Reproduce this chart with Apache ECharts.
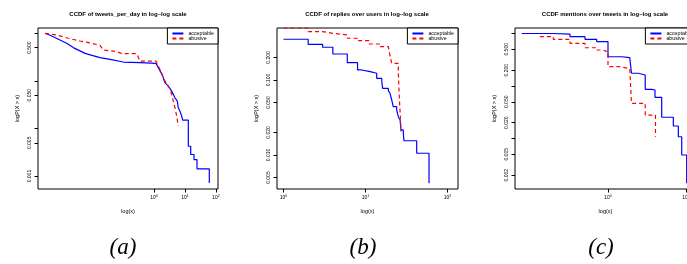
<!DOCTYPE html>
<html>
<head>
<meta charset="utf-8">
<title>CCDF in log-log scale</title>
<script src="https://cdn.jsdelivr.net/npm/echarts@6.0.0/dist/echarts.min.js"></script>
<style>
  html, body { margin: 0; padding: 0; background: #fff; overflow: hidden; }
  #main { width: 700px; height: 264px; }
</style>
</head>
<body>
<div id="main"></div>
<script>
// series: [x, P(X > x)]
const tweetsAcceptable = [[3.05e-4, 1.0], [4.42e-4, 0.908], [9.29e-4, 0.723], [1.53e-3, 0.617], [2.49e-3, 0.5],
  [5.94e-3, 0.379], [0.0181, 0.308], [0.0381, 0.284], [0.102, 0.249], [0.353, 0.242], [1.16, 0.233],
  [1.38, 0.190], [1.65, 0.153], [1.91, 0.126], [2.26, 0.0916], [2.89, 0.0778], [3.72, 0.0610], [4.75, 0.0443],
  [5.64, 0.0376], [6.08, 0.0273], [6.90, 0.0231], [7.83, 0.0182], [8.43, 0.0150], [12.8, 0.0150], [12.8, 0.00424],
  [15.3, 0.00424], [15.3, 0.00284], [19.5, 0.00284], [19.5, 0.00222], [24.4, 0.00222], [24.4, 0.00142],
  [60.8, 0.00142], [60.8, 0.00072]];
const tweetsAbusive = [[3.05e-4, 1.0], [7.27e-4, 0.920], [1.72e-3, 0.785], [4.10e-3, 0.689], [9.77e-3, 0.617],
  [0.0181, 0.559], [0.0232, 0.445], [0.0626, 0.412], [0.0908, 0.374], [0.277, 0.374], [0.353, 0.261],
  [1.16, 0.261], [1.38, 0.205], [1.65, 0.161], [1.99, 0.117], [2.44, 0.0916], [3.12, 0.0719], [3.72, 0.0520],
  [4.19, 0.0376], [4.75, 0.0273], [5.40, 0.0182], [6.08, 0.0112]];

// step curves (horizontal then vertical)
const repliesAcceptable = [[1, 0.349], [2, 0.299], [3, 0.273], [4, 0.222], [6, 0.170], [8, 0.136], [9, 0.129],
  [11.4, 0.123], [13.7, 0.105], [15.8, 0.0949], [16.2, 0.0774], [19, 0.072], [19.9, 0.0665], [20.9, 0.0541],
  [21.8, 0.0441], [24, 0.0398], [25.1, 0.0324], [26.4, 0.0293], [27.1, 0.0216], [28.9, 0.0195], [29.5, 0.0155],
  [42.1, 0.01055], [59.5, 0.0042]];
const repliesAbusive = [[1, 0.49], [2, 0.441], [3, 0.419], [4, 0.398], [6, 0.360], [8, 0.334], [11, 0.302],
  [15, 0.278], [19, 0.273], [20, 0.205], [20.9, 0.167], [25.1, 0.136], [25.8, 0.0599], [26.6, 0.0324],
  [27.1, 0.0205]];

const mentionsAcceptable = [[0.0783, 1.0], [0.199, 0.97], [0.326, 0.87], [0.507, 0.775], [0.717, 0.70],
  [1.0, 0.361], [1.5, 0.346], [1.9, 0.323], [2.0, 0.175], [2.44, 0.162], [3, 0.0865], [3.63, 0.0839],
  [4, 0.061], [4.88, 0.0254], [6.88, 0.0173], [7.97, 0.0108], [8.81, 0.00485], [10.2, 0.0014]];
const mentionsAbusive = [[0.134, 0.869], [0.199, 0.775], [0.326, 0.650], [0.507, 0.536], [0.717, 0.485],
  [0.85, 0.45], [1.0, 0.233], [1.43, 0.215], [1.9, 0.197], [2.0, 0.0468], [3.0, 0.028], [4.06, 0.0108]];

const titles = ['CCDF of tweets_per_day in log\u2013log scale', 'CCDF of replies over users in log\u2013log scale',
  'CCDF mentions over tweets in log\u2013log scale'];
const captions = ['(a)', '(b)', '(c)'];
const xTicks = [[0, 1, 2], [0, 1, 2], [0, 1]];
const yTicks = [[1, 0.5, 0.1, 0.05, 0.01, 0.005, 0.001],
  [0.2, 0.1, 0.05, 0.02, 0.01, 0.005],
  [1, 0.5, 0.2, 0.1, 0.05, 0.02, 0.01, 0.005, 0.002]];
const yLabels = [[0.5, 0.05, 0.005, 0.001],
  [0.2, 0.1, 0.05, 0.02, 0.01, 0.005],
  [0.5, 0.2, 0.05, 0.02, 0.005, 0.002]];

const FONT = 'Liberation Sans, Arial, sans-serif';
const panels = [
  { left: 38, width: 180, xMin: -3.742, xMax: 2.065, yMin: -3.271, yMax: 0.111, cx: 128, capX: 123 },
  { left: 277, width: 181, xMin: -0.079, xMax: 2.128, yMin: -2.453, yMax: -0.307, cx: 367, capX: 363 },
  { left: 515, width: 181, xMin: -1.192, xMax: 1.128, yMin: -2.962, yMax: 0.105, cx: 605, capX: 601 }
];

const toLog = pts => pts.map(p => [Math.log10(p[0]), Math.log10(p[1])]);

function makeSeries(name, pts, idx, color, dashed, step) {
  return {
    type: 'line', name, xAxisIndex: idx, yAxisIndex: idx,
    data: toLog(pts), symbol: 'none', step: step ? 'end' : false,
    lineStyle: { color, width: 1.2, type: dashed ? [4, 3] : 'solid' },
    itemStyle: { color }, silent: true, animation: false
  };
}

const chart = echarts.init(document.getElementById('main'));
chart.setOption({
  backgroundColor: '#fff',
  animation: false,
  title: panels.map((p, i) => ({
    text: titles[i], left: p.cx, top: 11, textAlign: 'center', padding: 0,
    textStyle: { fontSize: 6, fontWeight: 'bold', color: '#000', fontFamily: FONT }
  })).concat(panels.map((p, i) => ({
    text: captions[i], left: p.capX, top: 236, textAlign: 'center', padding: 0,
    textStyle: { fontSize: 23, fontStyle: 'italic', fontWeight: 'normal', color: '#000', fontFamily: 'Liberation Serif, serif' }
  }))),
  legend: panels.map(p => ({
    data: ['acceptable', 'abusive'], orient: 'vertical', right: 700 - p.left - p.width, top: 28,
    itemWidth: 11, itemHeight: 6, itemGap: 0, padding: [3, 4, 3, 4],
    borderColor: '#000', borderWidth: 1, borderRadius: 0, backgroundColor: '#fff',
    selectedMode: false,
    itemStyle: { opacity: 0, borderWidth: 0 },
    textStyle: { fontSize: 5.3, color: '#000', fontFamily: FONT }
  })),
  grid: panels.map(p => ({
    left: p.left, top: 28, width: p.width, height: 161, show: true,
    borderColor: '#000', borderWidth: 1, backgroundColor: 'transparent', outerBoundsMode: 'none'
  })),
  xAxis: panels.map((p, i) => ({
    type: 'value', gridIndex: i, min: p.xMin, max: p.xMax, position: 'bottom',
    name: 'log(x)', nameLocation: 'middle', nameGap: 19,
    nameTextStyle: { fontSize: 5.5, color: '#000', fontFamily: FONT },
    axisLine: { show: false, onZero: false }, splitLine: { show: false },
    axisTick: { show: true, length: 3.5, customValues: xTicks[i], lineStyle: { color: '#000', width: 1 } },
    axisLabel: {
      customValues: xTicks[i], margin: 5, color: '#000', fontFamily: FONT,
      formatter: v => '{b|10}{s|' + v + '}',
      rich: { b: { fontSize: 5, color: '#000' }, s: { fontSize: 3.5, color: '#000', padding: [0, 0, 3, 0] } }
    }
  })),
  yAxis: panels.map((p, i) => ({
    type: 'value', gridIndex: i, min: p.yMin, max: p.yMax, position: 'left',
    name: 'logP(X > x)', nameLocation: 'middle', nameGap: 18, nameRotate: 90,
    nameTextStyle: { fontSize: 5.5, color: '#000', fontFamily: FONT },
    axisLine: { show: false, onZero: false }, splitLine: { show: false },
    axisTick: { show: true, length: 3.5, customValues: yTicks[i].map(Math.log10), lineStyle: { color: '#000', width: 1 } },
    axisLabel: {
      customValues: yLabels[i].map(Math.log10), rotate: 90, margin: 6, color: '#000',
      fontSize: 5, fontFamily: FONT,
      formatter: v => Math.pow(10, v).toFixed(3)
    }
  })),
  series: [
    makeSeries('acceptable', tweetsAcceptable, 0, '#0000ff', false, false),
    makeSeries('abusive', tweetsAbusive, 0, '#ff0000', true, false),
    makeSeries('acceptable', repliesAcceptable, 1, '#0000ff', false, true),
    makeSeries('abusive', repliesAbusive, 1, '#ff0000', true, true),
    makeSeries('acceptable', mentionsAcceptable, 2, '#0000ff', false, true),
    makeSeries('abusive', mentionsAbusive, 2, '#ff0000', true, true)
  ]
});
</script>
</body>
</html>
